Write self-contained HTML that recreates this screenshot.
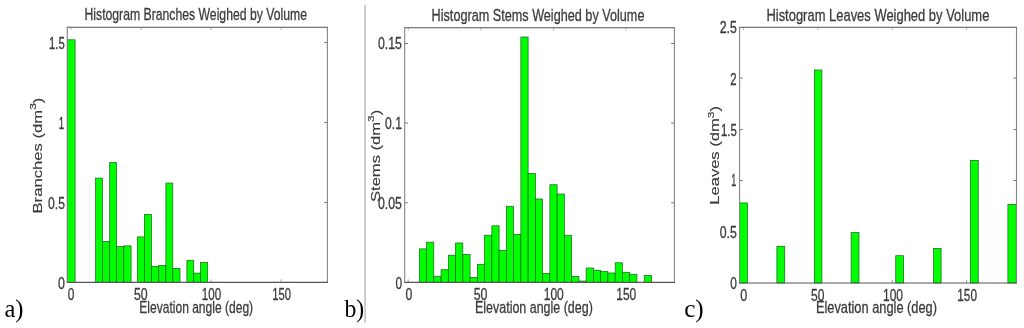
<!DOCTYPE html><html><head><meta charset="utf-8"><title>Histograms</title><style>html,body{margin:0;padding:0;background:#fff}svg{display:block}</style></head><body>
<svg width="1024" height="328" viewBox="0 0 1024 328">
<rect width="1024" height="328" fill="#fff"/>
<path d="M70.8 27.2v3M141.2 27.2v3M211 27.2v3M281.2 27.2v3" stroke="#aaa" stroke-width="0.8" fill="none"/>
<path d="M70.8 282.4v-3M141.2 282.4v-3M211 282.4v-3M281.2 282.4v-3" stroke="#888" stroke-width="0.8" fill="none"/>
<path d="M67.3 42.5h3.2M327.4 42.5h-3.2M67.3 122.5h3.2M327.4 122.5h-3.2M67.3 202.5h3.2M327.4 202.5h-3.2" stroke="#555" stroke-width="0.8" fill="none"/>
<rect x="67.30" y="39.80" width="7.80" height="242.60" fill="#00ff00" stroke="#176017" stroke-width="0.7"/>
<rect x="95.60" y="178.10" width="6.90" height="104.30" fill="#00ff00" stroke="#176017" stroke-width="0.7"/>
<rect x="102.50" y="241.40" width="7.20" height="41.00" fill="#00ff00" stroke="#176017" stroke-width="0.7"/>
<rect x="109.70" y="162.50" width="6.90" height="119.90" fill="#00ff00" stroke="#176017" stroke-width="0.7"/>
<rect x="116.60" y="246.60" width="7.15" height="35.80" fill="#00ff00" stroke="#176017" stroke-width="0.7"/>
<rect x="123.75" y="245.90" width="7.35" height="36.50" fill="#00ff00" stroke="#176017" stroke-width="0.7"/>
<rect x="137.30" y="236.90" width="7.10" height="45.50" fill="#00ff00" stroke="#176017" stroke-width="0.7"/>
<rect x="144.40" y="214.40" width="7.00" height="68.00" fill="#00ff00" stroke="#176017" stroke-width="0.7"/>
<rect x="151.40" y="266.40" width="7.35" height="16.00" fill="#00ff00" stroke="#176017" stroke-width="0.7"/>
<rect x="158.75" y="265.50" width="7.15" height="16.90" fill="#00ff00" stroke="#176017" stroke-width="0.7"/>
<rect x="165.90" y="183.10" width="6.90" height="99.30" fill="#00ff00" stroke="#176017" stroke-width="0.7"/>
<rect x="172.80" y="268.40" width="7.20" height="14.00" fill="#00ff00" stroke="#176017" stroke-width="0.7"/>
<rect x="186.90" y="260.30" width="6.85" height="22.10" fill="#00ff00" stroke="#176017" stroke-width="0.7"/>
<rect x="193.75" y="273.10" width="6.85" height="9.30" fill="#00ff00" stroke="#176017" stroke-width="0.7"/>
<rect x="200.60" y="262.50" width="7.10" height="19.90" fill="#00ff00" stroke="#176017" stroke-width="0.7"/>
<path d="M67.3 27.2V282.4M327.4 27.2V282.4" stroke="#858585" stroke-width="1.1" fill="none"/>
<path d="M66.8 27.2H327.9M66.8 282.4H327.9" stroke="#555" stroke-width="1.1" fill="none"/>
<text transform="translate(84.50 20.40) scale(0.7030 1)" font-family="Liberation Sans, sans-serif" font-size="17.4" fill="#3a3a3a" stroke="#3a3a3a" stroke-width="0.3">Histogram Branches Weighed by Volume</text>
<text transform="translate(139.30 313.20) scale(0.6926 1)" font-family="Liberation Sans, sans-serif" font-size="17.4" fill="#3a3a3a" stroke="#3a3a3a" stroke-width="0.3">Elevation angle (deg)</text>
<text transform="translate(67.75 300.20) scale(0.7249 1)" font-family="Liberation Sans, sans-serif" font-size="16.5" fill="#3a3a3a" stroke="#3a3a3a" stroke-width="0.3">0</text>
<text transform="translate(134.00 300.20) scale(0.7491 1)" font-family="Liberation Sans, sans-serif" font-size="16.5" fill="#3a3a3a" stroke="#3a3a3a" stroke-width="0.3">50</text>
<text transform="translate(201.75 300.20) scale(0.7029 1)" font-family="Liberation Sans, sans-serif" font-size="16.5" fill="#3a3a3a" stroke="#3a3a3a" stroke-width="0.3">100</text>
<text transform="translate(272.25 300.20) scale(0.6811 1)" font-family="Liberation Sans, sans-serif" font-size="16.5" fill="#3a3a3a" stroke="#3a3a3a" stroke-width="0.3">150</text>
<text transform="translate(49.00 49.00) scale(0.6867 1)" font-family="Liberation Sans, sans-serif" font-size="16.5" fill="#3a3a3a" stroke="#3a3a3a" stroke-width="0.3">1.5</text>
<text transform="translate(58.80 128.50) scale(0.5886 1)" font-family="Liberation Sans, sans-serif" font-size="16.5" fill="#3a3a3a" stroke="#3a3a3a" stroke-width="0.3">1</text>
<text transform="translate(48.10 208.60) scale(0.7369 1)" font-family="Liberation Sans, sans-serif" font-size="16.5" fill="#3a3a3a" stroke="#3a3a3a" stroke-width="0.3">0.5</text>
<text transform="translate(58.10 289.00) scale(0.7521 1)" font-family="Liberation Sans, sans-serif" font-size="16.5" fill="#3a3a3a" stroke="#3a3a3a" stroke-width="0.3">0</text>
<text transform="translate(41.90 213.50) rotate(-90) scale(1.2630 1)" font-family="Liberation Sans, sans-serif" font-size="13.2" fill="#3a3a3a" stroke="#3a3a3a" stroke-width="0.15">Branches (dm<tspan font-size="9.5" dy="-5.54">3</tspan><tspan dy="5.54">)</tspan></text>
<text transform="translate(4.40 316.60) scale(0.9640 1)" font-family="Liberation Serif, serif" font-size="25.5" fill="#000">a)</text>
<path d="M365.1 4.7V322.7" stroke="#c4c4c4" stroke-width="1.7"/>
<path d="M408.2 27.7v3M480.9 27.7v3M553.5 27.7v3M625.8 27.7v3" stroke="#aaa" stroke-width="0.8" fill="none"/>
<path d="M408.2 282.4v-3M480.9 282.4v-3M553.5 282.4v-3M625.8 282.4v-3" stroke="#888" stroke-width="0.8" fill="none"/>
<path d="M404.7 43.5h3.2M674.4 43.5h-3.2M404.7 123h3.2M674.4 123h-3.2M404.7 202.75h3.2M674.4 202.75h-3.2" stroke="#555" stroke-width="0.8" fill="none"/>
<rect x="419.30" y="248.90" width="7.25" height="33.50" fill="#00ff00" stroke="#176017" stroke-width="0.7"/>
<rect x="426.56" y="242.20" width="7.25" height="40.20" fill="#00ff00" stroke="#176017" stroke-width="0.7"/>
<rect x="433.81" y="276.25" width="7.25" height="6.15" fill="#00ff00" stroke="#176017" stroke-width="0.7"/>
<rect x="441.06" y="269.70" width="7.25" height="12.70" fill="#00ff00" stroke="#176017" stroke-width="0.7"/>
<rect x="448.32" y="255.20" width="7.25" height="27.20" fill="#00ff00" stroke="#176017" stroke-width="0.7"/>
<rect x="455.57" y="243.00" width="7.26" height="39.40" fill="#00ff00" stroke="#176017" stroke-width="0.7"/>
<rect x="462.83" y="254.40" width="7.25" height="28.00" fill="#00ff00" stroke="#176017" stroke-width="0.7"/>
<rect x="470.09" y="277.50" width="7.25" height="4.90" fill="#00ff00" stroke="#176017" stroke-width="0.7"/>
<rect x="477.34" y="264.50" width="7.25" height="17.90" fill="#00ff00" stroke="#176017" stroke-width="0.7"/>
<rect x="484.60" y="235.20" width="7.25" height="47.20" fill="#00ff00" stroke="#176017" stroke-width="0.7"/>
<rect x="491.85" y="225.80" width="7.25" height="56.60" fill="#00ff00" stroke="#176017" stroke-width="0.7"/>
<rect x="499.11" y="250.50" width="7.25" height="31.90" fill="#00ff00" stroke="#176017" stroke-width="0.7"/>
<rect x="506.36" y="206.25" width="7.25" height="76.15" fill="#00ff00" stroke="#176017" stroke-width="0.7"/>
<rect x="513.62" y="234.40" width="7.25" height="48.00" fill="#00ff00" stroke="#176017" stroke-width="0.7"/>
<rect x="520.87" y="37.00" width="7.25" height="245.40" fill="#00ff00" stroke="#176017" stroke-width="0.7"/>
<rect x="528.12" y="173.50" width="7.25" height="108.90" fill="#00ff00" stroke="#176017" stroke-width="0.7"/>
<rect x="535.38" y="199.00" width="7.25" height="83.40" fill="#00ff00" stroke="#176017" stroke-width="0.7"/>
<rect x="542.63" y="273.40" width="7.25" height="9.00" fill="#00ff00" stroke="#176017" stroke-width="0.7"/>
<rect x="549.89" y="184.75" width="7.25" height="97.65" fill="#00ff00" stroke="#176017" stroke-width="0.7"/>
<rect x="557.14" y="194.00" width="7.25" height="88.40" fill="#00ff00" stroke="#176017" stroke-width="0.7"/>
<rect x="564.40" y="235.25" width="7.25" height="47.15" fill="#00ff00" stroke="#176017" stroke-width="0.7"/>
<rect x="571.65" y="276.50" width="7.25" height="5.90" fill="#00ff00" stroke="#176017" stroke-width="0.7"/>
<rect x="578.91" y="281.00" width="7.25" height="1.40" fill="#00ff00" stroke="#176017" stroke-width="0.7"/>
<rect x="586.16" y="268.00" width="7.26" height="14.40" fill="#00ff00" stroke="#176017" stroke-width="0.7"/>
<rect x="593.42" y="270.25" width="7.25" height="12.15" fill="#00ff00" stroke="#176017" stroke-width="0.7"/>
<rect x="600.67" y="271.50" width="7.26" height="10.90" fill="#00ff00" stroke="#176017" stroke-width="0.7"/>
<rect x="607.93" y="273.00" width="7.25" height="9.40" fill="#00ff00" stroke="#176017" stroke-width="0.7"/>
<rect x="615.18" y="262.75" width="7.26" height="19.65" fill="#00ff00" stroke="#176017" stroke-width="0.7"/>
<rect x="622.44" y="272.25" width="7.25" height="10.15" fill="#00ff00" stroke="#176017" stroke-width="0.7"/>
<rect x="629.70" y="274.25" width="7.25" height="8.15" fill="#00ff00" stroke="#176017" stroke-width="0.7"/>
<rect x="644.21" y="275.50" width="7.25" height="6.90" fill="#00ff00" stroke="#176017" stroke-width="0.7"/>
<path d="M404.7 27.7V282.4M674.4 27.7V282.4" stroke="#858585" stroke-width="1.1" fill="none"/>
<path d="M404.2 27.7H674.9M404.2 282.4H674.9" stroke="#555" stroke-width="1.1" fill="none"/>
<text transform="translate(431.60 21.10) scale(0.7277 1)" font-family="Liberation Sans, sans-serif" font-size="17.4" fill="#3a3a3a" stroke="#3a3a3a" stroke-width="0.3">Histogram Stems Weighed by Volume</text>
<text transform="translate(475.00 312.90) scale(0.7169 1)" font-family="Liberation Sans, sans-serif" font-size="17.4" fill="#3a3a3a" stroke="#3a3a3a" stroke-width="0.3">Elevation angle (deg)</text>
<text transform="translate(405.40 300.20) scale(0.7467 1)" font-family="Liberation Sans, sans-serif" font-size="16.5" fill="#3a3a3a" stroke="#3a3a3a" stroke-width="0.3">0</text>
<text transform="translate(473.75 300.20) scale(0.7491 1)" font-family="Liberation Sans, sans-serif" font-size="16.5" fill="#3a3a3a" stroke="#3a3a3a" stroke-width="0.3">50</text>
<text transform="translate(543.75 300.20) scale(0.7265 1)" font-family="Liberation Sans, sans-serif" font-size="16.5" fill="#3a3a3a" stroke="#3a3a3a" stroke-width="0.3">100</text>
<text transform="translate(616.25 300.20) scale(0.7265 1)" font-family="Liberation Sans, sans-serif" font-size="16.5" fill="#3a3a3a" stroke="#3a3a3a" stroke-width="0.3">150</text>
<text transform="translate(377.90 49.10) scale(0.7473 1)" font-family="Liberation Sans, sans-serif" font-size="16.5" fill="#3a3a3a" stroke="#3a3a3a" stroke-width="0.3">0.15</text>
<text transform="translate(385.00 129.00) scale(0.7369 1)" font-family="Liberation Sans, sans-serif" font-size="16.5" fill="#3a3a3a" stroke="#3a3a3a" stroke-width="0.3">0.1</text>
<text transform="translate(377.90 208.80) scale(0.7473 1)" font-family="Liberation Sans, sans-serif" font-size="16.5" fill="#3a3a3a" stroke="#3a3a3a" stroke-width="0.3">0.05</text>
<text transform="translate(395.60 288.70) scale(0.7249 1)" font-family="Liberation Sans, sans-serif" font-size="16.5" fill="#3a3a3a" stroke="#3a3a3a" stroke-width="0.3">0</text>
<text transform="translate(380.00 202.00) rotate(-90) scale(1.2553 1)" font-family="Liberation Sans, sans-serif" font-size="13.2" fill="#3a3a3a" stroke="#3a3a3a" stroke-width="0.15">Stems (dm<tspan font-size="9.5" dy="-5.54">3</tspan><tspan dy="5.54">)</tspan></text>
<text transform="translate(344.50 316.80) scale(0.9321 1)" font-family="Liberation Serif, serif" font-size="25.5" fill="#000">b)</text>
<path d="M743.5 27.2v3M817.8 27.2v3M892.4 27.2v3M966.5 27.2v3" stroke="#aaa" stroke-width="0.8" fill="none"/>
<path d="M743.5 283v-3M817.8 283v-3M892.4 283v-3M966.5 283v-3" stroke="#888" stroke-width="0.8" fill="none"/>
<path d="M739.6 78.1h3.2M1016.5 78.1h-3.2M739.6 129.6h3.2M1016.5 129.6h-3.2M739.6 180.5h3.2M1016.5 180.5h-3.2M739.6 232h3.2M1016.5 232h-3.2" stroke="#555" stroke-width="0.8" fill="none"/>
<rect x="739.60" y="202.90" width="7.90" height="80.10" fill="#00ff00" stroke="#176017" stroke-width="0.7"/>
<rect x="776.90" y="246.20" width="7.85" height="36.80" fill="#00ff00" stroke="#176017" stroke-width="0.7"/>
<rect x="814.40" y="70.00" width="7.50" height="213.00" fill="#00ff00" stroke="#176017" stroke-width="0.7"/>
<rect x="851.10" y="232.60" width="7.90" height="50.40" fill="#00ff00" stroke="#176017" stroke-width="0.7"/>
<rect x="895.75" y="255.70" width="7.85" height="27.30" fill="#00ff00" stroke="#176017" stroke-width="0.7"/>
<rect x="933.60" y="248.40" width="7.50" height="34.60" fill="#00ff00" stroke="#176017" stroke-width="0.7"/>
<rect x="970.40" y="160.40" width="7.85" height="122.60" fill="#00ff00" stroke="#176017" stroke-width="0.7"/>
<rect x="1007.90" y="204.50" width="8.35" height="78.50" fill="#00ff00" stroke="#176017" stroke-width="0.7"/>
<path d="M739.6 27.2V283M1016.5 27.2V283" stroke="#858585" stroke-width="1.1" fill="none"/>
<path d="M739.1 27.2H1017.0M739.1 283H1017.0" stroke="#555" stroke-width="1.1" fill="none"/>
<text transform="translate(766.40 20.70) scale(0.7452 1)" font-family="Liberation Sans, sans-serif" font-size="17.4" fill="#3a3a3a" stroke="#3a3a3a" stroke-width="0.3">Histogram Leaves Weighed by Volume</text>
<text transform="translate(815.90 312.90) scale(0.7376 1)" font-family="Liberation Sans, sans-serif" font-size="17.4" fill="#3a3a3a" stroke="#3a3a3a" stroke-width="0.3">Elevation angle (deg)</text>
<text transform="translate(740.25 300.70) scale(0.7630 1)" font-family="Liberation Sans, sans-serif" font-size="16.5" fill="#3a3a3a" stroke="#3a3a3a" stroke-width="0.3">0</text>
<text transform="translate(811.00 300.70) scale(0.7300 1)" font-family="Liberation Sans, sans-serif" font-size="16.5" fill="#3a3a3a" stroke="#3a3a3a" stroke-width="0.3">50</text>
<text transform="translate(883.00 300.70) scale(0.7265 1)" font-family="Liberation Sans, sans-serif" font-size="16.5" fill="#3a3a3a" stroke="#3a3a3a" stroke-width="0.3">100</text>
<text transform="translate(957.25 300.70) scale(0.7174 1)" font-family="Liberation Sans, sans-serif" font-size="16.5" fill="#3a3a3a" stroke="#3a3a3a" stroke-width="0.3">150</text>
<text transform="translate(719.75 33.10) scale(0.7478 1)" font-family="Liberation Sans, sans-serif" font-size="16.5" fill="#3a3a3a" stroke="#3a3a3a" stroke-width="0.3">2.5</text>
<text transform="translate(730.30 84.60) scale(0.6867 1)" font-family="Liberation Sans, sans-serif" font-size="16.5" fill="#3a3a3a" stroke="#3a3a3a" stroke-width="0.3">2</text>
<text transform="translate(721.00 135.80) scale(0.6933 1)" font-family="Liberation Sans, sans-serif" font-size="16.5" fill="#3a3a3a" stroke="#3a3a3a" stroke-width="0.3">1.5</text>
<text transform="translate(731.20 185.70) scale(0.5450 1)" font-family="Liberation Sans, sans-serif" font-size="16.5" fill="#3a3a3a" stroke="#3a3a3a" stroke-width="0.3">1</text>
<text transform="translate(719.75 238.20) scale(0.7478 1)" font-family="Liberation Sans, sans-serif" font-size="16.5" fill="#3a3a3a" stroke="#3a3a3a" stroke-width="0.3">0.5</text>
<text transform="translate(730.25 289.30) scale(0.7249 1)" font-family="Liberation Sans, sans-serif" font-size="16.5" fill="#3a3a3a" stroke="#3a3a3a" stroke-width="0.3">0</text>
<text transform="translate(719.40 204.75) rotate(-90) scale(1.2557 1)" font-family="Liberation Sans, sans-serif" font-size="13.2" fill="#3a3a3a" stroke="#3a3a3a" stroke-width="0.15">Leaves (dm<tspan font-size="9.5" dy="-5.54">3</tspan><tspan dy="5.54">)</tspan></text>
<text transform="translate(684.20 316.50) scale(0.9867 1)" font-family="Liberation Serif, serif" font-size="25.5" fill="#000">c)</text>
</svg></body></html>
